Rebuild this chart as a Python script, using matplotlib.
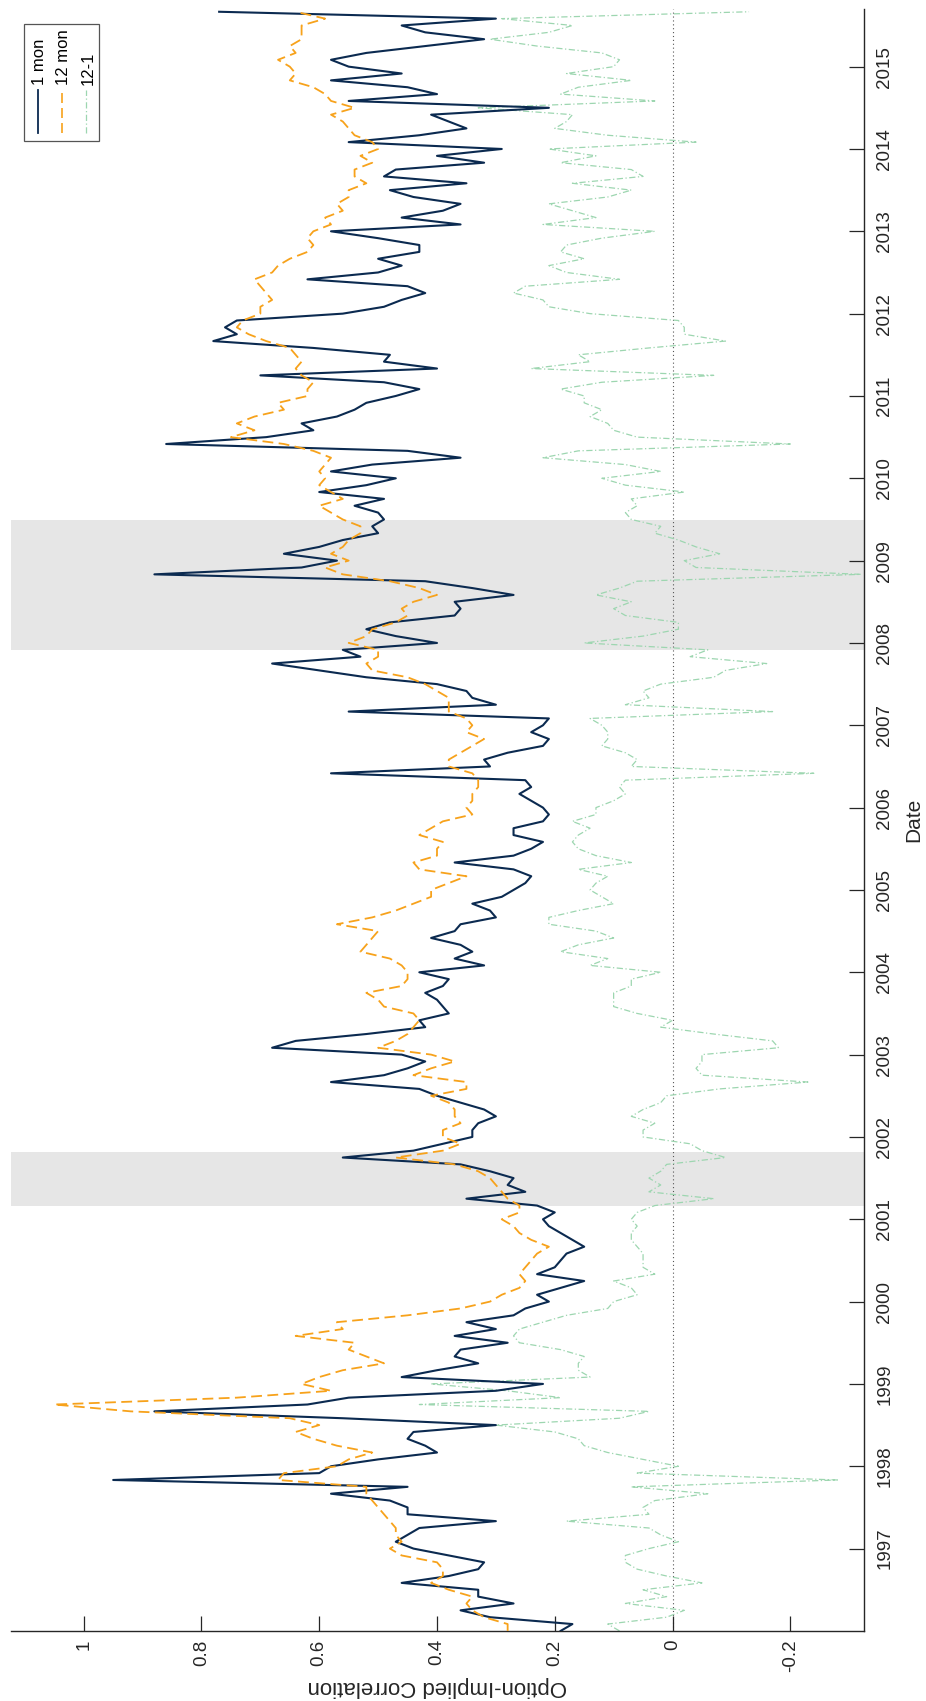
import numpy as np
import matplotlib
matplotlib.use("Agg")
import matplotlib.pyplot as plt
from matplotlib.patches import Rectangle

# The figure is a landscape time-series turned on its side:
# date runs up the page, correlation runs right-to-left.

plt.rcParams['font.family'] = ['Liberation Sans', 'DejaVu Sans']
plt.rcParams['axes.unicode_minus'] = False

# ------------------------------------------------------------------
# data (monthly readings, Jan 1996 .. Sep 2015)
# ------------------------------------------------------------------
start_year = 1996.0

one_mon = [
    0.19, 0.17, 0.31, 0.36, 0.27, 0.33, 0.33, 0.46, 0.38, 0.33, 0.32, 0.38,   # 1996
    0.44, 0.47, 0.45, 0.43, 0.30, 0.45, 0.45, 0.48, 0.58, 0.45, 0.95, 0.60,   # 1997
    0.58, 0.50, 0.40, 0.42, 0.45, 0.44, 0.30, 0.56, 0.88, 0.62, 0.55, 0.30,   # 1998
    0.22, 0.46, 0.40, 0.33, 0.37, 0.36, 0.28, 0.37, 0.30, 0.35, 0.27, 0.25,   # 1999
    0.21, 0.23, 0.19, 0.15, 0.23, 0.20, 0.19, 0.18, 0.15, 0.17, 0.19, 0.21,   # 2000
    0.22, 0.20, 0.23, 0.35, 0.25, 0.28, 0.27, 0.31, 0.36, 0.56, 0.44, 0.39,   # 2001
    0.34, 0.34, 0.33, 0.30, 0.32, 0.36, 0.40, 0.43, 0.58, 0.49, 0.45, 0.42,   # 2002
    0.46, 0.68, 0.64, 0.52, 0.42, 0.43, 0.38, 0.39, 0.40, 0.42, 0.39, 0.38,   # 2003
    0.43, 0.32, 0.37, 0.34, 0.36, 0.41, 0.37, 0.36, 0.30, 0.31, 0.34, 0.29,   # 2004
    0.27, 0.25, 0.24, 0.27, 0.37, 0.27, 0.24, 0.22, 0.27, 0.27, 0.22, 0.21,   # 2005
    0.22, 0.24, 0.26, 0.24, 0.25, 0.58, 0.31, 0.32, 0.28, 0.22, 0.21, 0.24,   # 2006
    0.22, 0.21, 0.55, 0.30, 0.34, 0.35, 0.40, 0.52, 0.60, 0.68, 0.53, 0.56,   # 2007
    0.40, 0.47, 0.52, 0.48, 0.37, 0.36, 0.37, 0.27, 0.34, 0.42, 0.88, 0.63,   # 2008
    0.57, 0.66, 0.60, 0.56, 0.50, 0.51, 0.49, 0.50, 0.54, 0.49, 0.60, 0.52,   # 2009
    0.47, 0.58, 0.51, 0.36, 0.45, 0.86, 0.69, 0.61, 0.63, 0.57, 0.54, 0.52,   # 2010
    0.47, 0.43, 0.49, 0.70, 0.40, 0.49, 0.48, 0.61, 0.78, 0.74, 0.76, 0.74,   # 2011
    0.56, 0.49, 0.46, 0.42, 0.45, 0.62, 0.50, 0.46, 0.50, 0.43, 0.43, 0.50,   # 2012
    0.58, 0.36, 0.46, 0.39, 0.36, 0.44, 0.48, 0.35, 0.49, 0.47, 0.32, 0.40,   # 2013
    0.29, 0.55, 0.43, 0.35, 0.38, 0.41, 0.21, 0.55, 0.40, 0.45, 0.58, 0.46,   # 2014
    0.55, 0.58, 0.52, 0.42, 0.32, 0.42, 0.46, 0.30, 0.77,                     # 2015
]

twelve_mon = [
    0.28, 0.28, 0.32, 0.34, 0.35, 0.34, 0.38, 0.41, 0.39, 0.39, 0.40, 0.46,   # 1996
    0.48, 0.46, 0.47, 0.47, 0.48, 0.49, 0.50, 0.51, 0.52, 0.52, 0.67, 0.66,   # 1997
    0.57, 0.55, 0.51, 0.57, 0.61, 0.64, 0.60, 0.65, 0.92, 1.05, 0.74, 0.58,   # 1998
    0.63, 0.60, 0.56, 0.49, 0.52, 0.55, 0.54, 0.64, 0.56, 0.57, 0.45, 0.36,   # 1999
    0.31, 0.29, 0.26, 0.25, 0.26, 0.25, 0.24, 0.23, 0.21, 0.24, 0.26, 0.27,   # 2000
    0.29, 0.26, 0.26, 0.28, 0.29, 0.30, 0.31, 0.33, 0.37, 0.47, 0.39, 0.36,   # 2001
    0.39, 0.39, 0.36, 0.37, 0.37, 0.38, 0.41, 0.35, 0.35, 0.44, 0.41, 0.37,   # 2002
    0.41, 0.50, 0.47, 0.45, 0.44, 0.43, 0.44, 0.49, 0.50, 0.52, 0.46, 0.45,   # 2003
    0.45, 0.46, 0.48, 0.53, 0.52, 0.51, 0.50, 0.57, 0.51, 0.47, 0.44, 0.41,   # 2004
    0.41, 0.38, 0.35, 0.43, 0.44, 0.40, 0.40, 0.39, 0.43, 0.41, 0.39, 0.34,   # 2005
    0.35, 0.34, 0.34, 0.33, 0.33, 0.34, 0.38, 0.38, 0.36, 0.34, 0.32, 0.35,   # 2006
    0.34, 0.35, 0.38, 0.38, 0.38, 0.40, 0.42, 0.45, 0.51, 0.52, 0.50, 0.50,   # 2007
    0.55, 0.52, 0.51, 0.47, 0.45, 0.46, 0.44, 0.40, 0.43, 0.48, 0.56, 0.59,   # 2008
    0.55, 0.58, 0.56, 0.55, 0.53, 0.53, 0.56, 0.58, 0.60, 0.56, 0.58, 0.60,   # 2009
    0.59, 0.60, 0.59, 0.58, 0.61, 0.66, 0.75, 0.71, 0.74, 0.71, 0.66, 0.67,   # 2010
    0.62, 0.62, 0.61, 0.63, 0.64, 0.63, 0.64, 0.65, 0.69, 0.72, 0.74, 0.73,   # 2011
    0.70, 0.70, 0.68, 0.69, 0.70, 0.71, 0.68, 0.67, 0.65, 0.62, 0.61, 0.62,   # 2012
    0.61, 0.58, 0.59, 0.56, 0.57, 0.55, 0.55, 0.52, 0.54, 0.54, 0.51, 0.53,   # 2013
    0.50, 0.51, 0.54, 0.55, 0.56, 0.58, 0.54, 0.58, 0.59, 0.61, 0.65, 0.64,   # 2014
    0.65, 0.67, 0.64, 0.65, 0.63, 0.63, 0.63, 0.59, 0.64,                     # 2015
]

recessions = [(2001.167, 2001.82), (2007.92, 2009.49)]

year_ticks = list(range(1997, 2016))
corr_ticks = [1.0, 0.8, 0.6, 0.4, 0.2, 0.0, -0.2]
corr_tick_labels = ['1', '0.8', '0.6', '0.4', '0.2', '0', '-0.2']

series_labels = ['1 mon', '12 mon', '12-1']

# ------------------------------------------------------------------
one_mon = np.array(one_mon)
twelve_mon = np.array(twelve_mon)
spread = twelve_mon - one_mon          # "12-1" is the term spread
dates = start_year + np.arange(len(one_mon)) / 12.0

NAVY = '#0b2a50'
ORANGE = '#f7a21b'
GREEN = '#9dd6b0'
AXC = '#262626'

fig = plt.figure(figsize=(9.26, 17.01), dpi=100)
ax = fig.add_axes([0.0119, 0.0412, 0.9208, 0.9535])

for lo, hi in recessions:
    ax.axhspan(lo, hi, color='#e6e6e6', lw=0, zorder=0)
ax.axvline(0, color='#555555', ls=(0, (1, 2.5)), lw=0.8, zorder=1)

ax.plot(spread, dates, color=GREEN, lw=0.9, dashes=(5, 2, 1, 2), zorder=2)
ax.plot(one_mon, dates, color=NAVY, lw=1.5, zorder=3)
ax.plot(twelve_mon, dates, color=ORANGE, lw=1.3, dashes=(6, 3), zorder=4)

ax.set_xlim(1.1235, -0.3247)
ax.set_ylim(1996.0, 2015.70)

ax.set_xticks(corr_ticks)
ax.set_xticklabels(corr_tick_labels, rotation=90)
ax.set_yticks(year_ticks)
ax.set_yticklabels([str(y) for y in year_ticks], rotation=90, va='center')
ax.yaxis.tick_right()
ax.tick_params(direction='in', length=11, width=0.9, color=AXC,
               labelsize=13.5, labelcolor=AXC)
ax.tick_params(axis='x', pad=6)
ax.tick_params(axis='y', pad=9)

for s in ['left', 'top']:
    ax.spines[s].set_visible(False)
for s in ['right', 'bottom']:
    ax.spines[s].set_color(AXC)
    ax.spines[s].set_linewidth(1.0)

ax.set_xlabel('Option-Implied Correlation', fontsize=16, color=AXC,
              rotation=180, labelpad=3)
ax.yaxis.set_label_position('right')
ax.set_ylabel('Date', fontsize=15, color=AXC, rotation=90, labelpad=8)

# legend drawn by hand so the entries can stand upright like the rest
ax.add_patch(Rectangle((0.0152, 0.9186), 0.088, 0.0722, transform=ax.transAxes,
                       facecolor='white', edgecolor='#555555', lw=0.9, zorder=6))
leg_x = [0.0313, 0.0595, 0.0880]
leg_style = [dict(color=NAVY, lw=1.3),
             dict(color=ORANGE, lw=1.2, dashes=(6, 3)),
             dict(color=GREEN, lw=0.9, dashes=(5, 2, 1, 2))]
for lx, lab, st in zip(leg_x, series_labels, leg_style):
    ax.plot([lx, lx], [0.9236, 0.9501], transform=ax.transAxes, zorder=7, **st)
    ax.text(lx + 0.002, 0.9531, lab, rotation=90, ha='center', va='bottom',
            fontsize=12, color='black', transform=ax.transAxes, zorder=7)

fig.savefig('out.png', dpi=100)
